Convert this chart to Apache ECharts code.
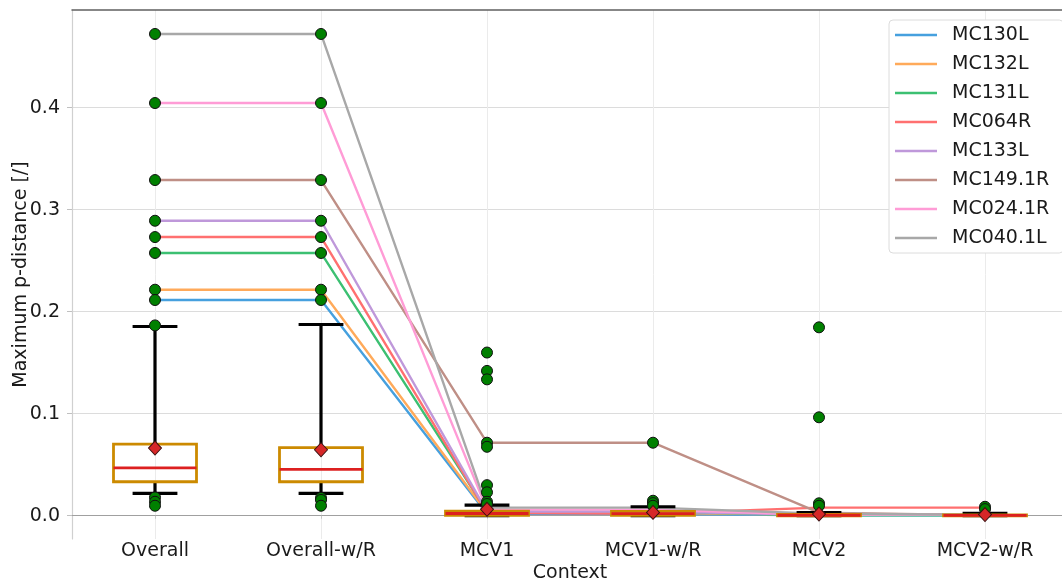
<!DOCTYPE html>
<html>
<head>
<meta charset="utf-8">
<script src="https://cdn.jsdelivr.net/npm/echarts@6/dist/echarts.min.js"></script>
<style>html,body{margin:0;padding:0;background:#fff}#c{width:1062px;height:585px}</style>
</head>
<body>
<div id="c"></div>
<script>
const categories = ['Overall', 'Overall-w/R', 'MCV1', 'MCV1-w/R', 'MCV2', 'MCV2-w/R'];
const yTicks = [0, 0.1, 0.2, 0.3, 0.4];

// per-specimen lines
const MC130L   = [0.2115, 0.2115, 0.002, 0.002, 0.0005, 0.0005];
const MC132L   = [0.2216, 0.2216, 0.003, 0.003, 0.001, 0.001];
const MC131L   = [0.2576, 0.2576, 0.004, 0.004, 0.0005, 0.0005];
const MC064R   = [0.2732, 0.2732, 0.003, 0.002, 0.008, 0.008];
const MC133L   = [0.2892, 0.2892, 0.004, 0.004, 0.001, 0.001];
const MC149_1R = [0.3291, 0.3291, 0.0716, 0.0716, 0.003, 0.0005];
const MC024_1R = [0.4046, 0.4046, 0.006, 0.006, 0.001, 0.001];
const MC040_1L = [0.4723, 0.4723, 0.008, 0.008, 0.002, 0.001];
const lineNames = ['MC130L', 'MC132L', 'MC131L', 'MC064R', 'MC133L', 'MC149.1R', 'MC024.1R', 'MC040.1L'];
const lineValues = [MC130L, MC132L, MC131L, MC064R, MC133L, MC149_1R, MC024_1R, MC040_1L];

// box statistics per category
const whiskerLow  = [0.022, 0.022, 0.0, 0.0, 0.0, 0.0];
const q1          = [0.0333, 0.0333, 0.0003, 0.0003, 0.0, 0.0];
const median      = [0.047, 0.0455, 0.0022, 0.002, 0.0005, 0.0003];
const q3          = [0.0703, 0.0667, 0.0045, 0.0042, 0.0012, 0.0008];
const whiskerHigh = [0.1855, 0.1875, 0.0105, 0.0088, 0.003, 0.0024];
const means       = [0.0664, 0.0647, 0.0063, 0.0033, 0.0017, 0.0012];

// outliers per category
const outOverall   = [0.4723, 0.4046, 0.3291, 0.2892, 0.2732, 0.2576, 0.2216, 0.2115, 0.1866, 0.018, 0.0137, 0.0098];
const outOverallWR = [0.4723, 0.4046, 0.3291, 0.2892, 0.2732, 0.2576, 0.2216, 0.2115, 0.0175, 0.0155, 0.0098];
const outMCV1      = [0.160, 0.142, 0.1337, 0.0716, 0.0676, 0.030, 0.023, 0.0137, 0.0115];
const outMCV1WR    = [0.0716, 0.0147, 0.0124, 0.0098];
const outMCV2      = [0.1847, 0.0965, 0.0122, 0.0098];
const outMCV2WR    = [0.0088, 0.0065];
const outliers = [outOverall, outOverallWR, outMCV1, outMCV1WR, outMCV2, outMCV2WR];

const lineColors = ['#46a0de', '#ffaa5a', '#3cc072', '#ff7070', '#bf98da', '#bf8f86', '#ff9cd6', '#a8a8a8'];
const FONT = 'DejaVu Sans';
const FS = 19;

const chart = echarts.init(document.getElementById('c'), null, {renderer: 'canvas'});

const lineSeries = lineNames.map((n, i) => ({
  name: n, type: 'line', data: lineValues[i], symbol: 'none', z: 2,
  color: lineColors[i],
  lineStyle: {width: 2.4, color: lineColors[i]},
  itemStyle: {color: lineColors[i]},
  emphasis: {disabled: true}
}));

const boxData = categories.map((c, i) => [i, whiskerLow[i], q1[i], median[i], q3[i], whiskerHigh[i]]);
const outlierData = [];
outliers.forEach((arr, i) => arr.forEach(v => outlierData.push([i, v])));
const meanData = means.map((v, i) => [i, v]);

const boxSeries = {
  type: 'custom', z: 3, silent: true,
  data: boxData,
  encode: {x: 0, y: [1, 2, 3, 4, 5]},
  renderItem: function (params, api) {
    const idx = api.value(0);
    const band = api.size([1, 0])[0];
    const x = api.coord([idx, 0])[0];
    const yLo = api.coord([idx, api.value(1)])[1];
    const yQ1 = api.coord([idx, api.value(2)])[1];
    const yMed = api.coord([idx, api.value(3)])[1];
    const yQ3 = api.coord([idx, api.value(4)])[1];
    const yHi = api.coord([idx, api.value(5)])[1];
    const bw = band * 0.5, cw = band * 0.27;
    const blk = {stroke: '#000', lineWidth: 3.2};
    return {
      type: 'group',
      children: [
        {type: 'line', shape: {x1: x, y1: yQ3, x2: x, y2: yHi}, style: blk},
        {type: 'line', shape: {x1: x, y1: yQ1, x2: x, y2: yLo}, style: blk},
        {type: 'line', shape: {x1: x - cw / 2, y1: yHi, x2: x + cw / 2, y2: yHi}, style: blk},
        {type: 'line', shape: {x1: x - cw / 2, y1: yLo, x2: x + cw / 2, y2: yLo}, style: blk},
        {type: 'rect', shape: {x: x - bw / 2, y: yQ3, width: bw, height: yQ1 - yQ3}, style: {fill: 'none', stroke: '#cc8a00', lineWidth: 2.8}},
        {type: 'line', shape: {x1: x - bw / 2, y1: yMed, x2: x + bw / 2, y2: yMed}, style: {stroke: '#dd2020', lineWidth: 2.8}}
      ]
    };
  }
};

chart.setOption({
  animation: false,
  backgroundColor: '#fff',
  textStyle: {fontFamily: FONT},
  grid: {left: 72, right: -6, top: 10, bottom: 46, containLabel: false, outerBoundsMode: 'none'},
  legend: {
    data: lineNames,
    orient: 'vertical', left: 889, top: 20,
    backgroundColor: '#fff', borderColor: '#dcdcdc', borderWidth: 1, borderRadius: 4,
    padding: [5, 14, 5, 6],
    icon: 'rect', itemWidth: 42, itemHeight: 2.5, itemGap: 9,
    textStyle: {fontFamily: FONT, fontSize: FS, color: '#1a1a1a', lineHeight: 20, padding: [0, 0, 0, 10]},
    selectedMode: false
  },
  xAxis: [{
    type: 'category', data: categories, position: 'bottom',
    name: 'Context', nameLocation: 'middle', nameGap: 25, nameMoveOverlap: false,
    nameTextStyle: {fontFamily: FONT, fontSize: FS, color: '#1a1a1a'},
    axisLine: {lineStyle: {color: '#a0a0a0', width: 1.2}},
    axisTick: {show: true, alignWithLabel: true, length: 3, lineStyle: {color: '#c8c8c8'}},
    axisLabel: {fontFamily: FONT, fontSize: FS, color: '#1a1a1a', margin: 3},
    splitLine: {show: true, alignWithLabel: true, lineStyle: {color: '#ebebeb', width: 1}}
  }, {
    type: 'category', data: categories, position: 'top',
    axisLine: {show: true, lineStyle: {color: '#606060', width: 1.5}},
    axisTick: {show: false}, axisLabel: {show: false}, splitLine: {show: false}
  }],
  yAxis: {
    type: 'value', min: -0.0228, max: 0.4958,
    name: 'Maximum p-distance [/]', nameLocation: 'middle', nameGap: 41, nameRotate: 90, nameMoveOverlap: false,
    nameTextStyle: {fontFamily: FONT, fontSize: FS, color: '#1a1a1a'},
    axisLine: {show: true, lineStyle: {color: '#d0d0d0', width: 1.2}},
    axisTick: {show: true, length: 5, customValues: yTicks, lineStyle: {color: '#c0c0c0'}},
    axisLabel: {fontFamily: FONT, fontSize: FS, color: '#1a1a1a', margin: 12, customValues: yTicks,
      formatter: v => v.toFixed(1)},
    splitLine: {show: true, lineStyle: {color: '#dcdcdc', width: 1.2}}
  },
  series: [
    ...lineSeries,
    boxSeries,
    {type: 'scatter', data: outlierData, symbol: 'circle', symbolSize: 11, z: 4, silent: true,
      itemStyle: {color: '#008000', borderColor: '#111', borderWidth: 1, opacity: 1}},
    {type: 'scatter', data: meanData, symbol: 'diamond', symbolSize: [13, 14], z: 5, silent: true,
      itemStyle: {color: '#d62728', borderColor: '#3a1010', borderWidth: 1, opacity: 1}}
  ]
});
</script>
</body>
</html>
